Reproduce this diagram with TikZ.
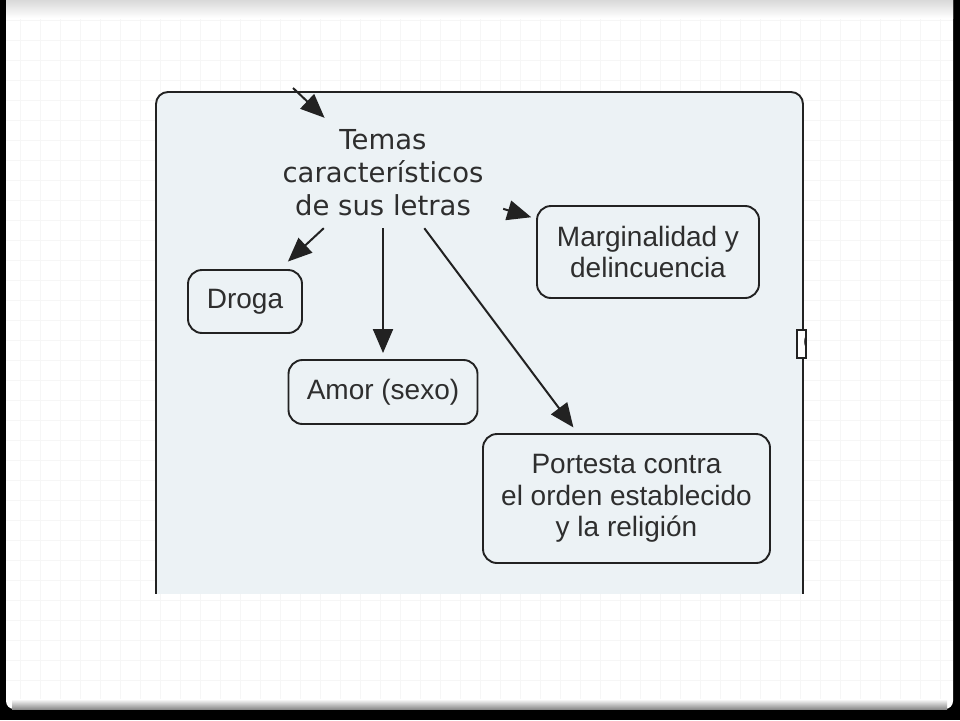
\documentclass[tikz,border=0pt]{standalone}
\usepackage{fontspec}
\setmainfont{Liberation Sans}
\newfontfamily\temafont{DejaVu Sans}
\usetikzlibrary{arrows.meta}
\definecolor{mapfill}{HTML}{ECF2F5}
\definecolor{mapline}{HTML}{222222}
\definecolor{maptext}{HTML}{2E2E2E}
\definecolor{gridgray}{HTML}{F6F6F6}
\begin{document}
\begin{tikzpicture}[x=1pt,y=-1pt,
  tema/.style={draw=mapline,line width=1.9pt,rounded corners=14pt,text=maptext,
    align=center,inner sep=0pt,font=\fontsize{28}{31.5}\selectfont},
  link/.style={draw=mapline,line width=2pt,-{Triangle[length=24pt,width=20pt]}}]
\useasboundingbox (0,0) rectangle (960,720);
% slide frame
\fill[black] (0,0) rectangle (960,720);
\fill[white,rounded corners=8pt] (6,-10) rectangle (953,709);
\foreach \gx in {20,40,...,940} \draw[gridgray,line width=0.7pt] (\gx,0) -- (\gx,700);
\foreach \gy in {20,40,...,680} \draw[gridgray,line width=0.7pt] (6,\gy) -- (953,\gy);
\shade[top color=black!15,bottom color=white] (6,0) rectangle (953,18);
\shade[top color=white,bottom color=black!45] (12,699) rectangle (947,709);
% concept map panel
\begin{scope}
\clip (150,80) rectangle (812,593);
\draw[draw=mapline,fill=mapfill,line width=1.9pt,rounded corners=12pt] (156,92) rectangle (803,610);
\end{scope}
\fill[white] (797,330) rectangle (806,358);
\begin{scope}
\clip (797,330) rectangle (806,358);
\node[text=mapline,font=\fontsize{28}{31}\selectfont] (resto) at (810,342) {c};
\end{scope}
\draw[mapline,line width=1.6pt] (797,330) rectangle (806,358);
% nodes
\node[text=maptext,align=center,inner sep=0pt,minimum width=240pt,minimum height=110pt,
  font=\temafont\fontsize{27.5}{33}\selectfont] (temas) at (383,173)
  {Temas\\característicos\\de sus letras};
\node[tema,minimum width=114pt,minimum height=63pt] (droga) at (245,301.5) {Droga};
\node[tema,minimum width=189pt,minimum height=64pt] (amor) at (383,392) {Amor (sexo)};
\node[tema,minimum width=222pt,minimum height=92pt] (margin) at (648,252)
  {Marginalidad y\\delincuencia};
\node[tema,minimum width=287pt,minimum height=129pt] (protesta) at (626.5,498.5)
  {Portesta contra\\el orden establecido\\y la religión};
% arrows
\coordinate (entrada) at (293,88);
\draw[link] (entrada) -- (temas);
\draw[link,shorten >=11pt] (temas) -- (droga);
\draw[link,shorten >=6pt] (temas) -- (amor);
\draw[link,shorten >=5pt] (temas) -- (margin);
\draw[link,shorten >=7pt] (temas) -- (protesta);
\end{tikzpicture}
\end{document}
